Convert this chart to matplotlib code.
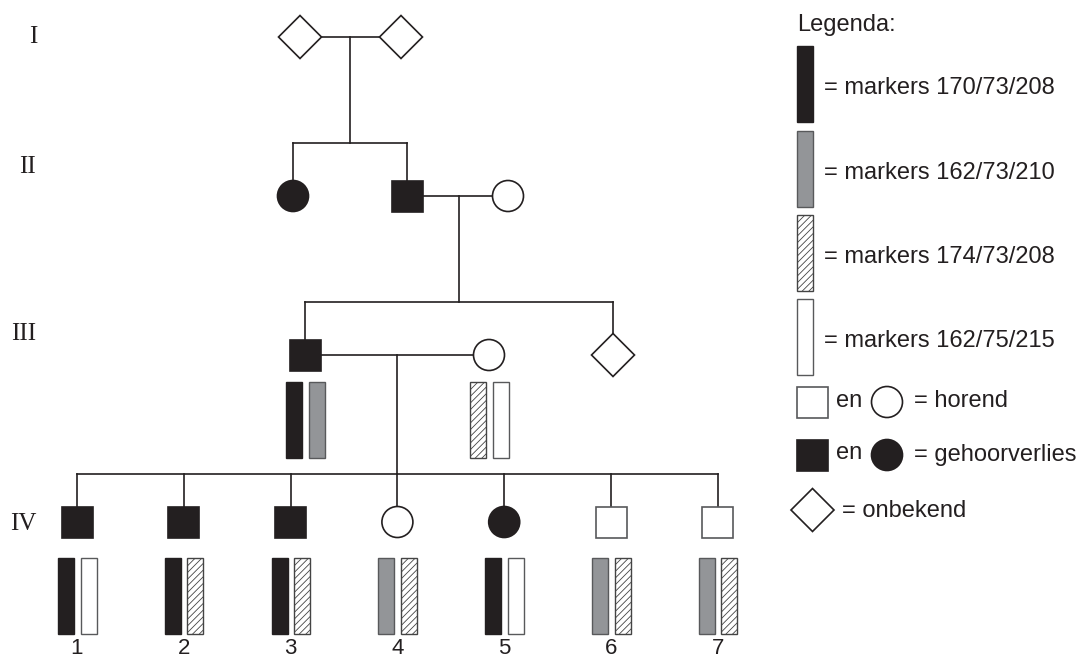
"""
Stamboom met markers (haplotypes) per persoon, nagetekend met matplotlib
"""

import matplotlib.pyplot as plt
from matplotlib.patches import Rectangle, Circle, Polygon

plt.rcParams['hatch.linewidth'] = 0.6

# Generaties
generaties = ['I', 'II', 'III', 'IV']

# Personen: generatie, geslacht (m/v/o = onbekend), aangedaan (1 = gehoorverlies)
personen = ['I-1', 'I-2', 'II-1', 'II-2', 'II-3', 'III-1', 'III-2', 'III-3',
            'IV-1', 'IV-2', 'IV-3', 'IV-4', 'IV-5', 'IV-6', 'IV-7']
generatie = [0, 0, 1, 1, 1, 2, 2, 2, 3, 3, 3, 3, 3, 3, 3]
geslacht = ['o', 'o', 'v', 'm', 'v', 'm', 'v', 'o',
            'm', 'm', 'm', 'v', 'v', 'm', 'm']
aangedaan = [0, 0, 1, 1, 0, 1, 0, 0, 1, 1, 1, 0, 1, 0, 0]

# Haplotypes (markers) per persoon
markers = ['170/73/208', '162/73/210', '174/73/208', '162/75/215']
haplotypes = {
    'III-1': ['170/73/208', '162/73/210'],
    'III-2': ['174/73/208', '162/75/215'],
    'IV-1': ['170/73/208', '162/75/215'],
    'IV-2': ['170/73/208', '174/73/208'],
    'IV-3': ['170/73/208', '174/73/208'],
    'IV-4': ['162/73/210', '174/73/208'],
    'IV-5': ['170/73/208', '162/75/215'],
    'IV-6': ['162/73/210', '174/73/208'],
    'IV-7': ['162/73/210', '174/73/208'],
}

# Ouderparen en hun kinderen
gezinnen = [
    (('I-1', 'I-2'), ['II-1', 'II-2']),
    (('II-2', 'II-3'), ['III-1', 'III-3']),
    (('III-1', 'III-2'), ['IV-1', 'IV-2', 'IV-3', 'IV-4', 'IV-5', 'IV-6', 'IV-7']),
]

# Opmaak (pixels)
x_pos = {'I-1': 300, 'I-2': 401, 'II-1': 293, 'II-2': 407, 'II-3': 508,
         'III-1': 305, 'III-2': 489, 'III-3': 613}
for i in range(7):
    x_pos['IV-%d' % (i + 1)] = 77 + 106.8 * i
gen_y = [37, 196, 355, 522]
gen_label_x = [33, 27, 24, 23]
gen_label_y = [37, 167, 334, 524]
sibship_y = [143, 302, 474]
drop_x = [350, 459, 397]

ZWART = '#231f20'
GRIJS = '#939598'
RAND = '#58595b'
stijl = {
    '170/73/208': dict(facecolor=ZWART, edgecolor=ZWART),
    '162/73/210': dict(facecolor=GRIJS, edgecolor='#58595b'),
    '174/73/208': dict(facecolor='white', edgecolor='#444444', hatch='/////'),
    '162/75/215': dict(facecolor='white', edgecolor='#58595b'),
}

LW = 1.2


def teken_symbool(ax, x, y, sex, aff):
    kleur = ZWART if aff else 'white'
    rand = ZWART if aff else RAND
    if sex == 'm':
        ax.add_patch(Rectangle((x - 15.5, y - 15.5), 31, 31, facecolor=kleur,
                               edgecolor=rand, lw=LW, zorder=3))
    elif sex == 'v':
        ax.add_patch(Circle((x, y), 15.5, facecolor=kleur, edgecolor=ZWART,
                            lw=LW, zorder=3))
    else:
        d = 21.5
        ax.add_patch(Polygon([(x - d, y), (x, y - d), (x + d, y), (x, y + d)],
                             closed=True, facecolor='white', edgecolor=ZWART,
                             lw=LW, zorder=3))


def teken_balk(ax, x, y, hap, hoogte=76, breedte=16):
    ax.add_patch(Rectangle((x, y), breedte, hoogte, lw=1.0, zorder=3,
                           **stijl[hap]))


fig = plt.figure(figsize=(10.8, 6.59), dpi=100)
ax = fig.add_axes([0, 0, 1, 1])
ax.set_xlim(0, 1080)
ax.set_ylim(659, 0)
ax.axis('off')

# Generatielabels
for i, g in enumerate(generaties):
    ax.text(gen_label_x[i], gen_label_y[i], g, fontsize=18,
            family='Liberation Serif', ha='center', va='center', color=ZWART)

# Symbolen
for i, p in enumerate(personen):
    teken_symbool(ax, x_pos[p], gen_y[generatie[i]], geslacht[i], aangedaan[i])

# Lijnen per gezin
for k, (ouders, kinderen) in enumerate(gezinnen):
    a, b = ouders
    ya = gen_y[generatie[personen.index(a)]]
    ax.plot([x_pos[a], x_pos[b]], [ya, ya], color=ZWART, lw=LW, zorder=1)
    ys = sibship_y[k]
    ax.plot([drop_x[k], drop_x[k]], [ya, ys], color=ZWART, lw=LW, zorder=1)
    xs = [x_pos[c] for c in kinderen]
    ax.plot([min(xs), max(xs)], [ys, ys], color=ZWART, lw=LW, zorder=1)
    for c in kinderen:
        yc = gen_y[generatie[personen.index(c)]]
        ax.plot([x_pos[c], x_pos[c]], [ys, yc], color=ZWART, lw=LW, zorder=1)

# Haplotype-balken
for p, haps in haplotypes.items():
    x = x_pos[p]
    y = 382 if p.startswith('III') else 558
    teken_balk(ax, x - 19, y, haps[0])
    teken_balk(ax, x + 3.5, y, haps[1])

# Nummers onder generatie IV
for n, p in enumerate([q for q in personen if q.startswith('IV')], start=1):
    ax.text(x_pos[p], 649, str(n), fontsize=16, family='Liberation Sans',
            ha='center', va='center', color=ZWART)

# Legenda
font = dict(fontsize=17, family='Liberation Sans', va='center', color=ZWART)
ax.text(797, 25, 'Legenda:', **font)
leg_y = [46, 131, 215, 299]
for i, m in enumerate(markers):
    ax.add_patch(Rectangle((797, leg_y[i]), 16, 76, lw=1.0, zorder=3, **stijl[m]))
    ax.text(824, leg_y[i] + 42, '= markers ' + m, **font)

ax.add_patch(Rectangle((797, 387), 31, 31, facecolor='white', edgecolor=RAND, lw=LW))
ax.text(836, 401, 'en', **font)
ax.add_patch(Circle((887, 402), 15.5, facecolor='white', edgecolor=ZWART, lw=LW))
ax.text(914, 401, '= horend', **font)

ax.add_patch(Rectangle((797, 440), 31, 31, facecolor=ZWART, edgecolor=ZWART, lw=LW))
ax.text(836, 453, 'en', **font)
ax.add_patch(Circle((887, 455), 15.5, facecolor=ZWART, edgecolor=ZWART, lw=LW))
ax.text(914, 455, '= gehoorverlies', **font)

ax.add_patch(Polygon([(791, 510), (812.5, 488.5), (834, 510), (812.5, 531.5)],
                     closed=True, facecolor='white', edgecolor=ZWART, lw=LW))
ax.text(842, 511, '= onbekend', **font)

plt.savefig('out.png', dpi=100)
plt.close()
